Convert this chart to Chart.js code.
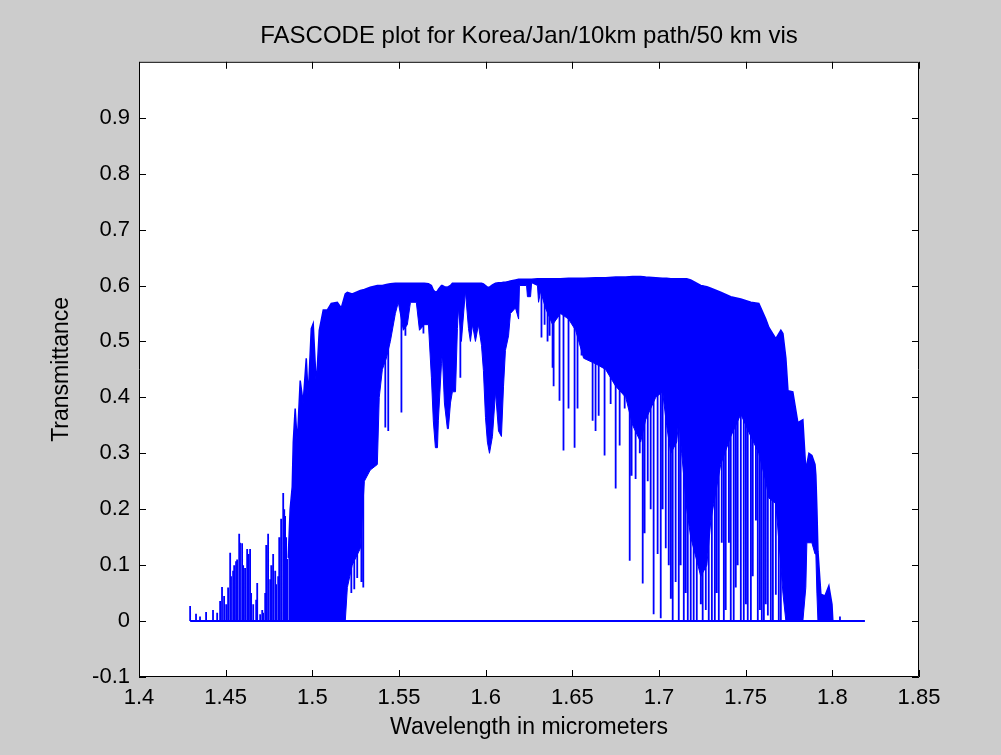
<!DOCTYPE html>
<html>
<head>
<meta charset="utf-8">
<title>FASCODE</title>
<script src="https://cdn.jsdelivr.net/npm/chart.js@4.4.1/dist/chart.umd.min.js"></script>
<style>
  html, body { margin: 0; padding: 0; background: #cccccc; }
  #grafica { display: block; }
</style>
</head>
<body>
<canvas id="grafica" width="1001" height="755"></canvas>
<script>
// ejes
const xTicks = [1.4, 1.45, 1.5, 1.55, 1.6, 1.65, 1.7, 1.75, 1.8, 1.85];
const yTicks = [-0.1, 0, 0.1, 0.2, 0.3, 0.4, 0.5, 0.6, 0.7, 0.8, 0.9];

// linea base (transmitancia 0)
const baseX = [1.4295, 1.8188];
const baseY = [0, 0];

// zona densa: borde superior e inferior del relleno azul
const bandX = [
  1.4861, 1.4872, 1.4884, 1.4890, 1.4901, 1.4913, 1.4930, 1.4947, 1.4965, 1.4976,
  1.4994, 1.5005, 1.5023, 1.5040, 1.5063, 1.5086, 1.5109, 1.5144, 1.5167, 1.5190,
  1.5202, 1.5230, 1.5277, 1.5300, 1.5334, 1.5375, 1.5386, 1.5404, 1.5427, 1.5450,
  1.5479, 1.5496, 1.5525, 1.5548, 1.5566, 1.5600, 1.5618, 1.5646, 1.5670, 1.5687,
  1.5698, 1.5710, 1.5722, 1.5727, 1.5745, 1.5750, 1.5762, 1.5779, 1.5785, 1.5797,
  1.5808, 1.5826, 1.5837, 1.5843, 1.5860, 1.5883, 1.5901, 1.5912, 1.5924, 1.5941,
  1.5958, 1.5976, 1.5987, 1.5999, 1.6010, 1.6022, 1.6039, 1.6057, 1.6074, 1.6091,
  1.6103, 1.6114, 1.6132, 1.6143, 1.6172, 1.6190, 1.6195, 1.6236, 1.6241, 1.6259,
  1.6265, 1.6299, 1.6305, 1.6317, 1.6345, 1.6386, 1.6432, 1.6478, 1.6519, 1.6565,
  1.6634, 1.6692, 1.6750, 1.6808, 1.6848, 1.6894, 1.6923, 1.6981, 1.7021, 1.7044,
  1.7068, 1.7102, 1.7114, 1.7131, 1.7160, 1.7183, 1.7241, 1.7276, 1.7299, 1.7356,
  1.7414, 1.7472, 1.7530, 1.7576, 1.7616, 1.7634, 1.7674, 1.7703, 1.7715, 1.7732,
  1.7744, 1.7772, 1.7801, 1.7830, 1.7847, 1.7853, 1.7865, 1.7882, 1.7900, 1.7905,
  1.7911, 1.7917, 1.7934, 1.7957, 1.7980, 1.7998, 1.8003
];
const bandTop = [
  0.113, 0.20, 0.24, 0.32, 0.38, 0.317, 0.43, 0.39, 0.47, 0.40,
  0.523, 0.532, 0.42, 0.52, 0.556, 0.556, 0.568, 0.57, 0.56, 0.585,
  0.588, 0.585, 0.591, 0.593, 0.597, 0.600, 0.600, 0.600, 0.602, 0.603,
  0.604, 0.604, 0.604, 0.604, 0.604, 0.604, 0.604, 0.604, 0.603, 0.600,
  0.592, 0.588, 0.590, 0.593, 0.600, 0.600, 0.598, 0.597, 0.598, 0.600,
  0.604, 0.604, 0.604, 0.604, 0.604, 0.604, 0.604, 0.604, 0.604, 0.604,
  0.604, 0.604, 0.603, 0.600, 0.597, 0.597, 0.601, 0.604, 0.605, 0.605,
  0.606, 0.606, 0.607, 0.608, 0.610, 0.611, 0.611, 0.611, 0.611, 0.611,
  0.611, 0.612, 0.612, 0.612, 0.612, 0.612, 0.612, 0.613, 0.613, 0.613,
  0.614, 0.614, 0.615, 0.615, 0.616, 0.616, 0.615, 0.614, 0.613, 0.613,
  0.612, 0.612, 0.612, 0.612, 0.612, 0.610, 0.600, 0.598, 0.595, 0.588,
  0.580, 0.576, 0.570, 0.568, 0.540, 0.525, 0.505, 0.520, 0.514, 0.470,
  0.412, 0.410, 0.355, 0.360, 0.270, 0.280, 0.300, 0.296, 0.280, 0.260,
  0.200, 0.125, 0.048, 0.045, 0.063, 0.030, 0
];
const bandBottom = [
  0, 0, 0, 0, 0, 0, 0, 0, 0, 0,
  0, 0, 0, 0, 0, 0, 0, 0, 0, 0,
  0.06, 0.10, 0.13, 0.25, 0.27, 0.28, 0.40, 0.45, 0.47, 0.50,
  0.55, 0.57, 0.52, 0.53, 0.57, 0.57, 0.52, 0.53, 0.53, 0.435,
  0.358, 0.31, 0.31, 0.358, 0.46, 0.478, 0.39, 0.344, 0.344, 0.39,
  0.41, 0.41, 0.523, 0.56, 0.50, 0.59, 0.523, 0.50, 0.53, 0.50,
  0.53, 0.493, 0.448, 0.364, 0.32, 0.30, 0.33, 0.41, 0.34, 0.33,
  0.42, 0.484, 0.51, 0.55, 0.56, 0.54, 0.60, 0.60, 0.58, 0.58,
  0.605, 0.60, 0.57, 0.59, 0.56, 0.53, 0.55, 0.54, 0.52, 0.47,
  0.46, 0.45, 0.42, 0.40, 0.35, 0.32, 0.36, 0.40, 0.41, 0.35,
  0.30, 0.32, 0.36, 0.30, 0.20, 0.15, 0.08, 0.10, 0.18, 0.28,
  0.33, 0.37, 0.33, 0.30, 0.25, 0.22, 0.21, 0.10, 0.05, 0,
  0, 0, 0, 0, 0.06, 0.14, 0.14, 0.14, 0.12, 0.12,
  0.05, 0, 0, 0, 0, 0, 0
];

// lineas de absorcion sueltas (de lineLow a lineHigh)
const lineX = [
  1.4295, 1.4329, 1.4352, 1.4387, 1.4427, 1.4451, 1.4468, 1.4479, 1.4491, 1.4503,
  1.4514, 1.4526, 1.4531, 1.4543, 1.4549, 1.4560, 1.4566, 1.4578, 1.4583, 1.4595,
  1.4601, 1.4612, 1.4624, 1.4630, 1.4641, 1.4647, 1.4659, 1.4676, 1.4682, 1.4699,
  1.4711, 1.4716, 1.4728, 1.4734, 1.4745, 1.4757, 1.4763, 1.4774, 1.4786, 1.4791,
  1.4803, 1.4809, 1.4820, 1.4832, 1.4838, 1.4843, 1.4849, 1.4855,
  1.5207, 1.5225, 1.5242, 1.5259, 1.5283, 1.5294, 1.5421, 1.5438, 1.5514, 1.5537,
  1.5641, 1.5854,
  1.6322, 1.6340, 1.6357, 1.6369, 1.6386, 1.6392, 1.6426, 1.6449, 1.6478, 1.6513,
  1.6530, 1.6553, 1.6617, 1.6634, 1.6652, 1.6686, 1.6721, 1.6750, 1.6773, 1.6802,
  1.6831, 1.6842, 1.6865, 1.6889, 1.6906, 1.6917, 1.6935, 1.6952, 1.6969, 1.6992,
  1.7010, 1.7021, 1.7039, 1.7056, 1.7068, 1.7079, 1.7096, 1.7114, 1.7125, 1.7143,
  1.7154, 1.7166, 1.7183, 1.7200, 1.7218, 1.7229, 1.7241, 1.7252, 1.7270, 1.7287,
  1.7305, 1.7322, 1.7333, 1.7345, 1.7362, 1.7374, 1.7385, 1.7403, 1.7414, 1.7431,
  1.7443, 1.7454, 1.7472, 1.7489, 1.7501, 1.7512, 1.7530, 1.7541, 1.7559, 1.7570,
  1.7582, 1.7593, 1.7605, 1.7616, 1.7628, 1.7645, 1.7657, 1.7674, 1.7691, 1.7703,
  1.8044
];
const lineLow = [
  0, 0, 0, 0, 0, 0, 0, 0, 0, 0,
  0, 0, 0, 0, 0, 0, 0, 0, 0, 0,
  0, 0, 0, 0, 0, 0, 0, 0, 0, 0,
  0, 0, 0, 0, 0, 0, 0, 0, 0, 0,
  0, 0, 0, 0, 0, 0, 0, 0,
  0.08, 0.05, 0.057, 0.077, 0.07, 0.06, 0.346, 0.34, 0.373, 0.51,
  0.514, 0.435,
  0.507, 0.53, 0.50, 0.51, 0.453, 0.42, 0.394, 0.305, 0.38, 0.31,
  0.38, 0.475, 0.358, 0.34, 0.367, 0.296, 0.388, 0.237, 0.314, 0.38,
  0.108, 0.26, 0.254, 0.30, 0.067, 0.157, 0.25, 0.20, 0.012, 0.12,
  0.005, 0.20, 0.13, 0.10, 0.04, 0, 0.07, 0, 0.10, 0,
  0.05, 0, 0, 0, 0, 0.147, 0.03, 0, 0.02, 0,
  0, 0, 0.05, 0, 0.14, 0, 0.02, 0.14, 0, 0,
  0.06, 0.10, 0, 0, 0.03, 0, 0, 0.08, 0.18, 0,
  0.02, 0, 0, 0.03, 0.01, 0, 0, 0.047, 0, 0,
  0
];
const lineHigh = [
  0.027, 0.013, 0.008, 0.016, 0.020, 0.015, 0.036, 0.061, 0.045, 0.030,
  0.060, 0.122, 0.080, 0.090, 0.100, 0.107, 0.110, 0.156, 0.140, 0.139,
  0.100, 0.095, 0.129, 0.120, 0.129, 0.050, 0.030, 0.038, 0.068, 0.012,
  0.020, 0.015, 0.050, 0.136, 0.156, 0.075, 0.100, 0.120, 0.090, 0.066,
  0.080, 0.150, 0.183, 0.229, 0.200, 0.188, 0.150, 0.111,
  0.50, 0.50, 0.50, 0.50, 0.50, 0.50, 0.55, 0.55, 0.58, 0.58,
  0.58, 0.58,
  0.60, 0.60, 0.60, 0.60, 0.60, 0.60, 0.60, 0.60, 0.60, 0.60,
  0.60, 0.60, 0.60, 0.60, 0.60, 0.60, 0.60, 0.60, 0.60, 0.60,
  0.60, 0.60, 0.60, 0.60, 0.60, 0.60, 0.60, 0.60, 0.60, 0.60,
  0.60, 0.60, 0.60, 0.60, 0.60, 0.60, 0.60, 0.60, 0.60, 0.60,
  0.60, 0.60, 0.60, 0.60, 0.60, 0.60, 0.60, 0.60, 0.58, 0.58,
  0.58, 0.58, 0.58, 0.58, 0.58, 0.58, 0.58, 0.58, 0.57, 0.57,
  0.57, 0.57, 0.57, 0.56, 0.56, 0.56, 0.56, 0.55, 0.55, 0.55,
  0.55, 0.55, 0.50, 0.50, 0.50, 0.50, 0.50, 0.50, 0.50, 0.50,
  0.008
];

const azul = '#0000ff';
const fuente = 'Liberation Sans, Arial, sans-serif';

const base = baseX.map((x, i) => ({ x, y: baseY[i] }));
const arriba = bandX.map((x, i) => ({ x, y: bandTop[i] }));
const abajo = bandX.map((x, i) => ({ x, y: bandBottom[i] }));
const trazos = [];
lineX.forEach((x, i) => {
    trazos.push({ x, y: lineHigh[i] }, { x, y: lineLow[i] }, { x, y: null });
});

// fondo blanco, marco y marcas hacia dentro como en MATLAB
const marcoMatlab = {
    id: 'marcoMatlab',
    beforeDraw(chart) {
        const { ctx, chartArea: a } = chart;
        ctx.save();
        ctx.fillStyle = '#ffffff';
        ctx.fillRect(a.left, a.top, a.right - a.left, a.bottom - a.top);
        ctx.restore();
    },
    afterDraw(chart) {
        const { ctx, chartArea: a, scales } = chart;
        const largo = 7;
        ctx.save();
        ctx.strokeStyle = '#000000';
        ctx.lineWidth = 1;
        ctx.beginPath();
        ctx.rect(a.left + 0.5, a.top + 0.5, a.right - a.left - 1, a.bottom - a.top - 1);
        xTicks.forEach(v => {
            const px = Math.round(scales.x.getPixelForValue(v)) + 0.5;
            ctx.moveTo(px, a.bottom); ctx.lineTo(px, a.bottom - largo);
            ctx.moveTo(px, a.top); ctx.lineTo(px, a.top + largo);
        });
        yTicks.forEach(v => {
            const py = Math.round(scales.y.getPixelForValue(v)) + 0.5;
            ctx.moveTo(a.left, py); ctx.lineTo(a.left + largo, py);
            ctx.moveTo(a.right, py); ctx.lineTo(a.right - largo, py);
        });
        ctx.stroke();
        ctx.restore();
    }
};

const etiqueta = v => String(Math.round(v * 100) / 100);

new Chart(document.getElementById('grafica'), {
    type: 'line',
    data: {
        datasets: [
            { data: base, borderColor: azul, borderWidth: 2, pointRadius: 0, fill: false },
            { data: arriba, borderColor: azul, backgroundColor: azul, borderWidth: 1.5, pointRadius: 0, fill: '+1' },
            { data: abajo, borderColor: azul, borderWidth: 1, pointRadius: 0, fill: false },
            { data: trazos, borderColor: azul, borderWidth: 1.8, pointRadius: 0, fill: false, spanGaps: false }
        ]
    },
    options: {
        responsive: false,
        animation: false,
        devicePixelRatio: 1,
        layout: { padding: { left: 0, right: 82, top: 0, bottom: 0 } },
        plugins: {
            legend: { display: false },
            tooltip: { enabled: false },
            title: {
                display: true,
                fullSize: false,
                text: 'FASCODE plot for Korea/Jan/10km path/50 km vis',
                color: '#000000',
                font: { family: fuente, size: 24, weight: 'normal' },
                padding: { top: 22, bottom: 11 }
            }
        },
        scales: {
            x: {
                type: 'linear',
                min: 1.4,
                max: 1.85,
                afterBuildTicks: s => { s.ticks = xTicks.map(v => ({ value: v })); },
                afterFit: s => { s.height = 78; },
                grid: { display: false, drawTicks: false },
                border: { display: false },
                ticks: {
                    callback: etiqueta,
                    color: '#000000',
                    font: { family: fuente, size: 22 },
                    padding: 8,
                    maxRotation: 0,
                    autoSkip: false
                },
                title: {
                    display: true,
                    text: 'Wavelength in micrometers',
                    color: '#000000',
                    font: { family: fuente, size: 23 },
                    padding: { top: 0, bottom: 14 }
                }
            },
            y: {
                type: 'linear',
                min: -0.1,
                max: 1.0,
                afterBuildTicks: s => { s.ticks = yTicks.map(v => ({ value: v })); },
                afterFit: s => { s.width = 139; },
                grid: { display: false, drawTicks: false },
                border: { display: false },
                ticks: {
                    callback: etiqueta,
                    color: '#000000',
                    font: { family: fuente, size: 22 },
                    padding: 9,
                    autoSkip: false
                },
                title: {
                    display: true,
                    text: 'Transmittance',
                    color: '#000000',
                    font: { family: fuente, size: 23 },
                    padding: { top: 48, bottom: 0 }
                }
            }
        }
    },
    plugins: [marcoMatlab]
});
</script>
</body>
</html>
